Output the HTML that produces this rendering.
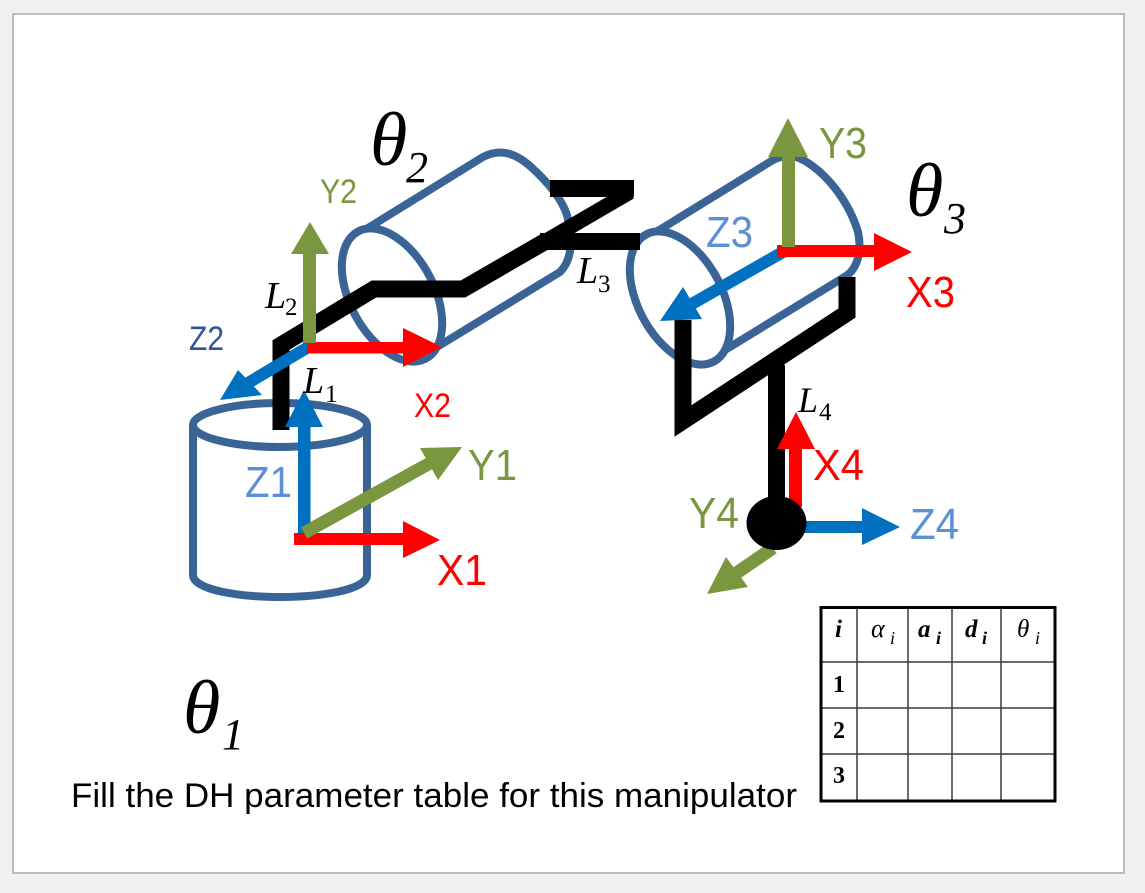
<!DOCTYPE html>
<html><head><meta charset="utf-8"><style>
html,body{margin:0;padding:0;background:#f0f0f0;width:1145px;height:893px;overflow:hidden}
svg{display:block}
.s{font-family:"Liberation Sans",sans-serif}
.m{font-family:"Liberation Serif",serif;font-style:italic;fill:#000}
.l{font-family:"Liberation Serif",serif;fill:#000}
.b{font-family:"Liberation Serif",serif;font-weight:bold;fill:#000}
</style></head><body>
<svg width="1145" height="893" viewBox="0 0 1145 893" xmlns="http://www.w3.org/2000/svg">
<rect x="0" y="0" width="1145" height="893" fill="#f0f0f0"/>
<rect x="13" y="14" width="1111" height="859" fill="#fff" stroke="#b9bdc3" stroke-width="2"/>

<!-- cylinders -->
<g fill="none" stroke="#3b6496" stroke-width="8">
<ellipse cx="280" cy="425" rx="87" ry="22"/>
<path d="M193,425V575C193,590 240,597 280,597C320,597 367,590 367,575V425"/>
<ellipse cx="392" cy="295" rx="42" ry="72" transform="rotate(-28 392 295)"/>
<path d="M368,228L483,157C500,148 515,153 530,166C550,184 562,200 567,215C572,235 574,258 560,272L437,347"/>
<ellipse cx="680" cy="298" rx="42" ry="72" transform="rotate(-28 680 298)"/>
<path d="M656,232L773,160C785,154 795,155 805,161C830,176 850,205 858,232C862,250 858,268 846,276L725,350"/>
</g>

<!-- black links -->
<g fill="none" stroke="#000" stroke-width="17" stroke-linejoin="miter">
<path d="M281,430V345L374,289H463L546,241"/>
<path d="M540,241.500H640"/>
<path d="M550,188.500H634"/>
<path d="M546,241L630,192" stroke-width="15"/>
<path d="M683,320V421L847,313V277"/>
<path d="M776.500,365V510"/>
</g>
<polygon points="625,180 634,180 634,197 615,197" fill="#000"/>

<!-- arrows -->
<g fill="#0070c0">
<rect x="298" y="425" width="12.500" height="112"/>
<polygon points="304,390 323,427 285,427"/>
<polygon points="220,400 238,370 262,395"/>
<polygon points="660,321 683,287 702,319"/>
<rect x="800" y="521" width="64" height="12"/>
<polygon points="900,527 862,508 862,545"/>
</g>
<g stroke="#0070c0" stroke-width="12" fill="none">
<path d="M310,346L248,383"/>
<path d="M783,252L690,305"/>
</g>
<g fill="#ff0000">
<rect x="294" y="533" width="112" height="12"/>
<polygon points="440,540 403,521 403,558"/>
<rect x="307" y="342" width="98" height="11.500"/>
<polygon points="442,347 403,328 403,367"/>
<rect x="777" y="245" width="100" height="12"/>
<polygon points="912,252 874,233 874,271"/>
<rect x="789" y="445" width="13" height="62"/>
<polygon points="796,412 815,449 777,449"/>
</g>
<g fill="#7a963e">
<polygon points="462,447 420,448 438,480"/>
<rect x="303" y="250" width="13" height="93"/>
<polygon points="310,222 329,254 291,254"/>
<rect x="782" y="155" width="13" height="92"/>
<polygon points="788,118 808,157 768,157"/>
<polygon points="707,594 726,557 748,587"/>
</g>
<g stroke="#7a963e" stroke-width="13" fill="none">
<path d="M304,533L432,462"/>
<path d="M773,548L735,574"/>
</g>
<ellipse cx="776.500" cy="523" rx="30" ry="27" fill="#000"/>

<!-- axis labels -->
<g class="s">
<text x="437" y="585" font-size="44" fill="#ff0000" textLength="50" lengthAdjust="spacingAndGlyphs">X1</text>
<text x="468" y="480" font-size="44" fill="#7a963e" textLength="49" lengthAdjust="spacingAndGlyphs">Y1</text>
<text x="245" y="497" font-size="44" fill="#5b8fd6" textLength="47" lengthAdjust="spacingAndGlyphs">Z1</text>
<text x="414" y="417" font-size="34" fill="#ff0000" textLength="37" lengthAdjust="spacingAndGlyphs">X2</text>
<text x="320" y="203" font-size="34" fill="#7a963e" textLength="37" lengthAdjust="spacingAndGlyphs">Y2</text>
<text x="189" y="350" font-size="34" fill="#2f5597" textLength="35" lengthAdjust="spacingAndGlyphs">Z2</text>
<text x="819" y="158" font-size="44" fill="#7a963e" textLength="48" lengthAdjust="spacingAndGlyphs">Y3</text>
<text x="706" y="247" font-size="44" fill="#5b8fd6" textLength="47" lengthAdjust="spacingAndGlyphs">Z3</text>
<text x="906" y="307" font-size="44" fill="#ff0000" textLength="49" lengthAdjust="spacingAndGlyphs">X3</text>
<text x="813" y="480" font-size="44" fill="#ff0000" textLength="51" lengthAdjust="spacingAndGlyphs">X4</text>
<text x="689" y="528" font-size="44" fill="#7a963e" textLength="50" lengthAdjust="spacingAndGlyphs">Y4</text>
<text x="910" y="539" font-size="44" fill="#5b8fd6" textLength="49" lengthAdjust="spacingAndGlyphs">Z4</text>
<text x="71" y="807" font-size="34" fill="#000" textLength="726" lengthAdjust="spacingAndGlyphs">Fill the DH parameter table for this manipulator</text>
</g>

<!-- thetas -->
<text class="m" x="370" y="165" font-size="76">θ</text>
<text class="m" x="406" y="182" font-size="44">2</text>
<text class="m" x="906" y="216" font-size="76">θ</text>
<text class="m" x="944" y="233" font-size="44">3</text>
<text class="m" x="183" y="733" font-size="76">θ</text>
<text class="m" x="222" y="749" font-size="44">1</text>

<!-- L labels -->
<text class="m" x="265" y="308" font-size="38">L</text><text class="l" x="285" y="315" font-size="25">2</text>
<text class="m" x="303" y="393" font-size="38">L</text><text class="l" x="325" y="402" font-size="25">1</text>
<text class="m" x="577" y="283" font-size="38">L</text><text class="l" x="598" y="292" font-size="25">3</text>
<text class="m" x="798" y="412" font-size="36">L</text><text class="l" x="819" y="420" font-size="25">4</text>

<!-- table -->
<g stroke="#3c3c3c" stroke-width="1.500" fill="none">
<path d="M857,607V802M908,607V802M952,607V802M1001,607V802M820,662H1056M820,708H1056M820,754H1056"/>
</g>
<rect x="821" y="607.500" width="234" height="193.500" fill="none" stroke="#000" stroke-width="3"/>
<g>
<text class="m" x="835" y="637" font-size="25" font-weight="bold">i</text>
<text class="m" x="871" y="637" font-size="26">α</text><text class="m" x="890" y="644" font-size="18">i</text>
<text class="m" x="918" y="637" font-size="25" font-weight="bold">a</text><text class="m" x="936" y="644" font-size="18" font-weight="bold">i</text>
<text class="m" x="965" y="637" font-size="25" font-weight="bold">d</text><text class="m" x="982" y="644" font-size="18" font-weight="bold">i</text>
<text class="m" x="1017" y="637" font-size="25">θ</text><text class="m" x="1035" y="644" font-size="18">i</text>
<text class="b" x="833" y="692" font-size="24">1</text>
<text class="b" x="833" y="738" font-size="24">2</text>
<text class="b" x="833" y="783" font-size="24">3</text>
</g>
</svg>
</body></html>
